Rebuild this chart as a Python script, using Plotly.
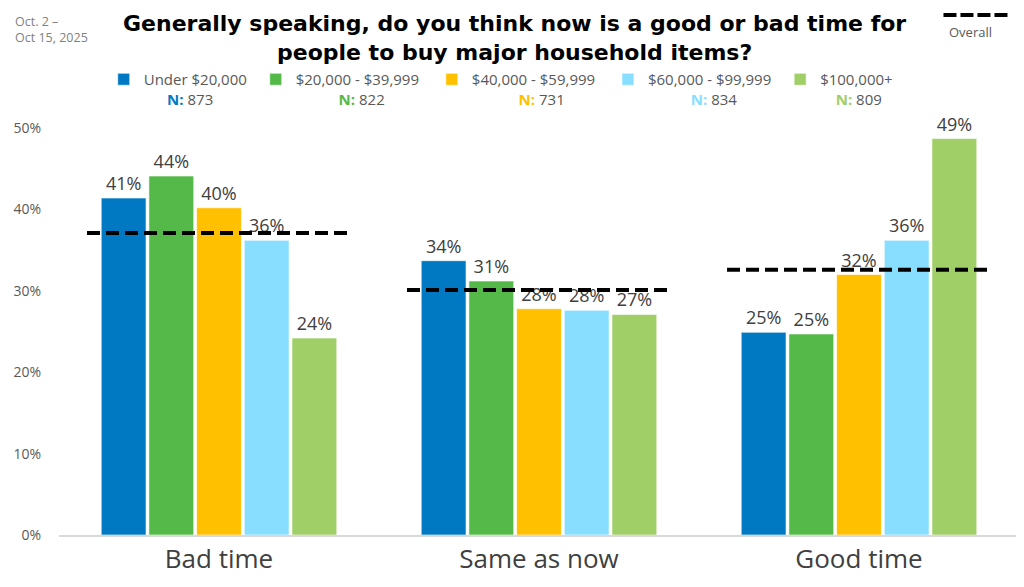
import plotly.graph_objects as go

# ---- data ----
categories = ["Bad time", "Same as now", "Good time"]
series_names = ["Under $20,000", "$20,000 - $39,999", "$40,000 - $59,999",
                "$60,000 - $99,999", "$100,000+"]
series_n = [873, 822, 731, 834, 809]
under_20k = [41.4, 33.7, 24.9]
k20_40 = [44.1, 31.2, 24.7]
k40_60 = [40.2, 27.8, 32.0]
k60_100 = [36.2, 27.6, 36.2]
k100_plus = [24.2, 27.1, 48.7]
overall = [37.1, 30.1, 32.6]
y_ticks = [0, 10, 20, 30, 40, 50]
y_tick_labels = ["0%", "10%", "20%", "30%", "40%", "50%"]
title_text = ("Generally speaking, do you think now is a good or bad time for<br>"
              "people to buy major household items?")

series_values = [under_20k, k20_40, k40_60, k60_100, k100_plus]
colors = ["#0179C2", "#54B948", "#FFC000", "#87DEFF", "#A0CE67"]

# legend padding (layout tuning only)
lead_pad = [6, 11, 12, 11, 4]
trail_pad = [1, 2, 2, 1, 0]

FONT = "Open Sans"
TITLE_FONT = "DejaVu Sans"
TXT = "#404040"

# page offset (browser body margin) and figure geometry in screen pixels
OFF = 8
W, H = 1024 - OFF, 587 - OFF
ML, MT = 53 - OFF, 128 - OFF
MR, MB = 5, 52
PW, PH = W - ML - MR, H - MT - MB


def px_x(p):
    return (p - OFF - ML) / PW


def px_y(p):
    return 1 + (MT - (p - OFF)) / PH


fig = go.Figure()
for name, vals, col, n, lp, tp in zip(series_names, series_values, colors,
                                       series_n, lead_pad, trail_pad):
    label = (f"{name}{'&nbsp;' * tp}<br>{'&nbsp;' * lp}"
             f"<span style='color:{col}'><b>N:</b></span> {n}")
    fig.add_trace(go.Bar(
        x=categories, y=vals, name=label,
        marker=dict(color=col, line=dict(color="rgba(255,255,255,0.6)", width=1)),
        text=[f"{round(v)}%" for v in vals],
        textposition="outside", cliponaxis=False,
        textfont=dict(family=FONT, size=18, color=TXT),
        hoverinfo="skip",
    ))

# overall dashed lines across each group (numeric overlay axis)
half = 0.4125
ox, oy = [], []
for i, v in enumerate(overall):
    ox += [i - half, i + half, None]
    oy += [v, v, None]
fig.add_trace(go.Scatter(
    x=ox, y=oy, xaxis="x2", mode="lines", showlegend=False,
    line=dict(color="black", width=4, dash="13px,6px"), hoverinfo="skip",
))

fig.update_layout(
    width=W, height=H,
    margin=dict(l=ML, r=MR, t=MT, b=MB),
    paper_bgcolor="white", plot_bgcolor="white",
    barmode="group", bargap=0.255, bargroupgap=0.06,
    font=dict(family=FONT, color=TXT),
    legend=dict(
        orientation="h", x=px_x(98), xanchor="left",
        y=px_y(63), yanchor="top", valign="top",
        font=dict(family=FONT, size=15, color="#595959"),
        bgcolor="rgba(0,0,0,0)", itemclick=False, itemdoubleclick=False,
    ),
    xaxis=dict(
        type="category", showline=True, linecolor="#D9D9D9", linewidth=1.5,
        ticks="", showgrid=False, zeroline=False,
        tickfont=dict(family=FONT, size=26, color=TXT),
        ticklabelstandoff=0,
    ),
    xaxis2=dict(overlaying="x", range=[-0.5, 2.5], visible=False),
    yaxis=dict(
        range=[0, 50], tickmode="array", tickvals=y_ticks, ticktext=y_tick_labels,
        showgrid=False, zeroline=False, showline=False, ticks="",
        tickfont=dict(family=FONT, size=14, color="#595959"),
        ticklabelstandoff=17,
    ),
    showlegend=True,
)

# title
fig.add_annotation(text=f"<b>{title_text}</b>", xref="paper", yref="paper",
                   x=px_x(511), y=px_y(9), xanchor="center", yanchor="top",
                   align="center", showarrow=False,
                   font=dict(family=TITLE_FONT, size=22, color="black"))

# overall legend sample (decoration) and date note
fig.add_shape(type="line", xref="paper", yref="paper",
              x0=px_x(943), x1=px_x(1010), y0=px_y(15), y1=px_y(15),
              line=dict(color="black", width=4, dash="13px,4px"))
fig.add_annotation(text="Overall", xref="paper", yref="paper",
                   x=px_x(970), y=px_y(32), xanchor="center", yanchor="middle",
                   showarrow=False, font=dict(family=FONT, size=13, color="#595959"))
fig.add_annotation(text="Oct. 2 –<br>Oct 15, 2025", xref="paper", yref="paper",
                   x=px_x(7), y=px_y(11), xanchor="left", yanchor="top", align="left",
                   showarrow=False, font=dict(family=FONT, size=12.5, color="#7F7F7F"))

fig.write_html("out.html")
